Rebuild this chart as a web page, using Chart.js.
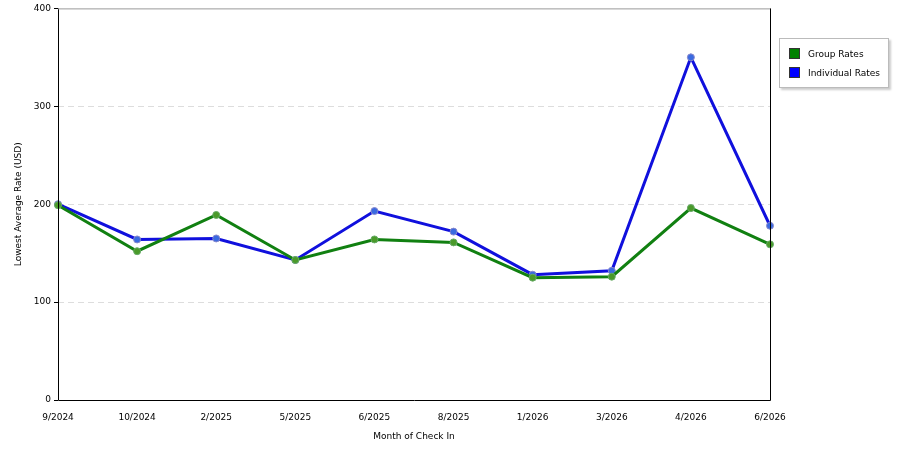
<!DOCTYPE html>
<html><head><meta charset="utf-8">
<script src="https://cdn.jsdelivr.net/npm/chart.js"></script>
<style>
body{margin:0;background:#fff;font-family:"DejaVu Sans",sans-serif;}
#wrap{position:relative;width:900px;height:450px;}
#legend{position:absolute;left:779px;top:38px;width:108px;height:48px;border:1px solid #bbb;box-shadow:2px 2px 2px #ccc;font-size:9px;background:#fff;}
.li{position:absolute;left:9px;display:flex;align-items:center;}
.sw{width:11px;height:11px;margin-right:8px;border:1px solid #333;box-sizing:border-box;}
</style></head><body>
<div id="wrap"><canvas id="c" width="900" height="450"></canvas>
<div id="legend">
<div class="li" style="top:9px"><div class="sw" style="background:#008000"></div>Group Rates</div>
<div class="li" style="top:28px"><div class="sw" style="background:#0000ff"></div>Individual Rates</div>
</div></div>
<script>
const categories=["9/2024","10/2024","2/2025","5/2025","6/2025","8/2025","1/2026","3/2026","4/2026","6/2026"];
const groupRates=[199,152,189,143,164,161,125,126,196,159];
const individualRates=[200,164,165,143,193,172,128,132,350,178];
const yTicks=[0,100,200,300,400];
Chart.defaults.font.family='"DejaVu Sans",sans-serif';
Chart.defaults.font.size=9;
Chart.defaults.color='#000';
const frame={id:'frame',afterDraw(ch){const a=ch.chartArea,c=ch.ctx;c.save();c.strokeStyle='#000';c.lineWidth=1;
c.beginPath();c.moveTo(a.left+.5,a.top);c.lineTo(a.left+.5,a.bottom+.5);c.lineTo(a.right+.5,a.bottom+.5);c.lineTo(a.right+.5,a.top);c.stroke();
c.strokeStyle='#999';c.beginPath();c.moveTo(a.left,a.top+.5);c.lineTo(a.right,a.top+.5);c.stroke();c.restore();}};
new Chart(document.getElementById('c'),{type:'line',
data:{labels:categories,datasets:[
{label:'Group Rates',data:groupRates,borderColor:'#118011',backgroundColor:'#4a9a2a',borderWidth:3,pointRadius:3.5,pointBorderColor:'#6a6',pointBorderWidth:1,tension:0},
{label:'Individual Rates',data:individualRates,borderColor:'#1010dd',backgroundColor:'#3a6ae0',borderWidth:3,pointRadius:3.5,pointBorderColor:'#88c',pointBorderWidth:1,tension:0}]},
options:{responsive:false,animation:false,
layout:{padding:{left:9,right:130,top:0,bottom:4}},
plugins:{legend:{display:false},tooltip:{enabled:false}},
scales:{
x:{offset:false,grid:{display:false,drawTicks:true},border:{display:false},ticks:{padding:4},
 title:{display:true,text:'Month of Check In',padding:{top:2}},
 afterFit(s){s.height=46;}},
y:{min:0,max:400,afterBuildTicks(s){s.ticks=yTicks.map(v=>({value:v}));},
 grid:{color:ctx=>ctx.tick.value===0||ctx.tick.value===400?'rgba(0,0,0,0)':'#ddd',tickColor:'#000',tickLength:4},
 border:{display:false,dash:[6,4]},ticks:{padding:3},
 title:{display:true,text:'Lowest Average Rate (USD)'},
 afterFit(s){s.width=49;}}}},
plugins:[frame]});
</script></body></html>
